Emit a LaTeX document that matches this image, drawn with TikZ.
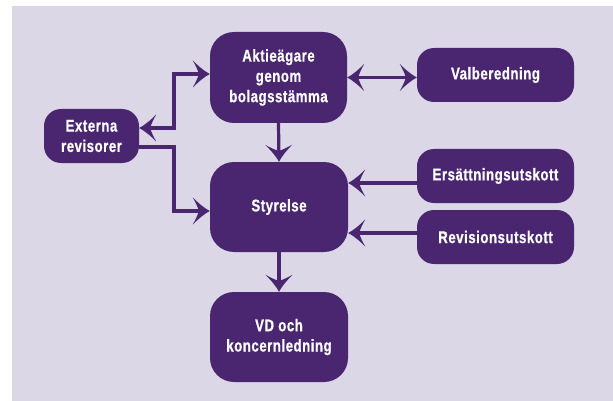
\documentclass[tikz,border=0pt]{standalone}
\usepackage{fontspec}
\setmainfont{Liberation Sans}[FakeStretch=0.78,LetterSpace=3,FakeBold=0.6]
\usetikzlibrary{arrows.meta}
\definecolor{bgc}{HTML}{DCD7E6}
\definecolor{pc}{HTML}{4A2670}
\pgfdeclarearrow{
  name=Swept,
  setup code={
    \pgfarrowssettipend{0pt}
    \pgfarrowssetlineend{-9pt}
    \pgfarrowssetbackend{-17pt}
  },
  drawing code={
    \pgfpathmoveto{\pgfpoint{0pt}{0pt}}
    \pgfpathcurveto{\pgfpoint{-5pt}{2.5pt}}{\pgfpoint{-11pt}{7.5pt}}{\pgfpoint{-17pt}{13.5pt}}
    \pgfpathcurveto{\pgfpoint{-14pt}{8pt}}{\pgfpoint{-12pt}{4pt}}{\pgfpoint{-11pt}{0pt}}
    \pgfpathcurveto{\pgfpoint{-12pt}{-4pt}}{\pgfpoint{-14pt}{-8pt}}{\pgfpoint{-17pt}{-13.5pt}}
    \pgfpathcurveto{\pgfpoint{-11pt}{-7.5pt}}{\pgfpoint{-5pt}{-2.5pt}}{\pgfpoint{0pt}{0pt}}
    \pgfpathclose
    \pgfusepathqfill
  },
}
\tikzset{
  box/.style={fill=pc, text=white, align=center, inner sep=2pt,
    font=\bfseries\fontsize{17}{20.3}\selectfont},
  bigbox/.style={box, minimum width=137pt, minimum height=91pt, rounded corners=24pt},
  smallbox/.style={box, minimum width=157pt, minimum height=54pt, rounded corners=17pt},
  conn/.style={draw=pc, line width=3.2pt, >={Swept}},
}
\begin{document}
\begin{tikzpicture}[x=1pt,y=-1pt]
\useasboundingbox (0,0) rectangle (613,401);
\fill[bgc] (12,6) rectangle (613,401);
\node[bigbox] (akt) at (278.5,77.5) {Aktieägare\\genom\\bolagsstämma};
\node[smallbox] (val) at (495.5,75) {Valberedning};
\node[smallbox, minimum width=95pt] (ext) at (91.5,136) {Externa\\revisorer};
\node[bigbox, minimum width=138pt, minimum height=90pt] (sty) at (279,207) {Styrelse};
\node[smallbox] (ers) at (495.5,176) {Ersättningsutskott};
\node[smallbox] (rev) at (495.5,237) {Revisionsutskott};
\node[bigbox, minimum width=138pt, minimum height=90pt] (vd) at (279,337) {VD och\\koncernledning};
\coordinate (bus) at (174,0);
\coordinate (x1) at ([yshift=8pt]ext.east);
\coordinate (x2) at ([yshift=-11pt]ext.east);
\coordinate (a1) at ([yshift=3.5pt]akt.west);
\coordinate (s1) at ([yshift=-4pt]sty.west);
\coordinate (e1) at ([yshift=-7pt]ers.west);
\coordinate (r1) at ([yshift=4pt]rev.west);
\draw[conn,->] (akt.south) -- (sty.north);
\draw[conn,->] (sty.south) -- (vd.north);
\draw[conn,<->] (akt.east) -- (akt.east -| val.west);
\draw[conn,<->] (x1) -| (bus |- a1) -- (a1);
\draw[conn,->] (x2) -| (bus |- s1) -- (s1);
\draw[conn,->] (e1) -- (e1 -| sty.east);
\draw[conn,->] (r1) -- (r1 -| sty.east);
\end{tikzpicture}
\end{document}
